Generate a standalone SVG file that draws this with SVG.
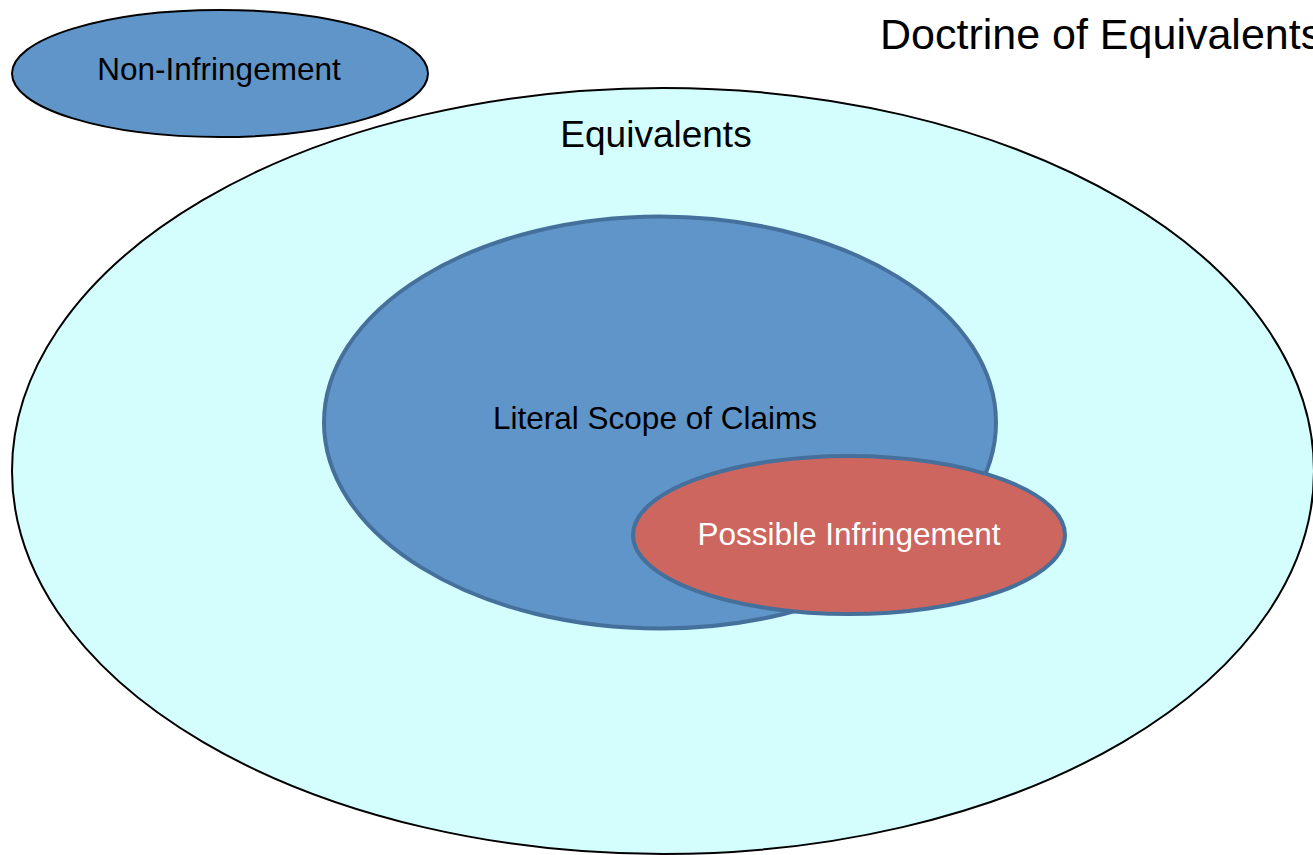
<svg xmlns="http://www.w3.org/2000/svg" width="1313" height="855" viewBox="0 0 1313 855">
  <style>
    .lbl { font-family: "Liberation Sans", Arial, sans-serif; text-anchor: middle; font-size: 31.5px; }
    .thin { stroke: #000; stroke-width: 2; }
    .thick { stroke: #46709c; stroke-width: 4; }
  </style>
  <rect width="1313" height="855" fill="#fff"/>

  <g id="equivalents">
    <ellipse cx="663" cy="471" rx="651" ry="383" fill="#d4fefe" class="thin"/>
    <text class="lbl" x="656" y="147" style="font-size:37px" fill="#000">Equivalents</text>
  </g>

  <g id="non-infringement">
    <ellipse cx="220" cy="73.5" rx="208" ry="63.5" fill="#6095c9" class="thin"/>
    <text class="lbl" x="219" y="80" fill="#000">Non-Infringement</text>
  </g>

  <g id="literal-scope">
    <ellipse cx="660" cy="422.5" rx="336" ry="206" fill="#6095c9" class="thick"/>
    <text class="lbl" x="655" y="429" fill="#000">Literal Scope of Claims</text>
  </g>

  <g id="possible-infringement">
    <ellipse cx="849" cy="535" rx="216" ry="79" fill="#cc665f" class="thick"/>
    <text class="lbl" x="849" y="545" fill="#fff">Possible Infringement</text>
  </g>

  <g id="title">
    <text x="880" y="49" font-family="&quot;Liberation Sans&quot;, Arial, sans-serif" font-size="43" fill="#000">Doctrine of Equivalents</text>
  </g>

  <g id="connectors"/>
</svg>
